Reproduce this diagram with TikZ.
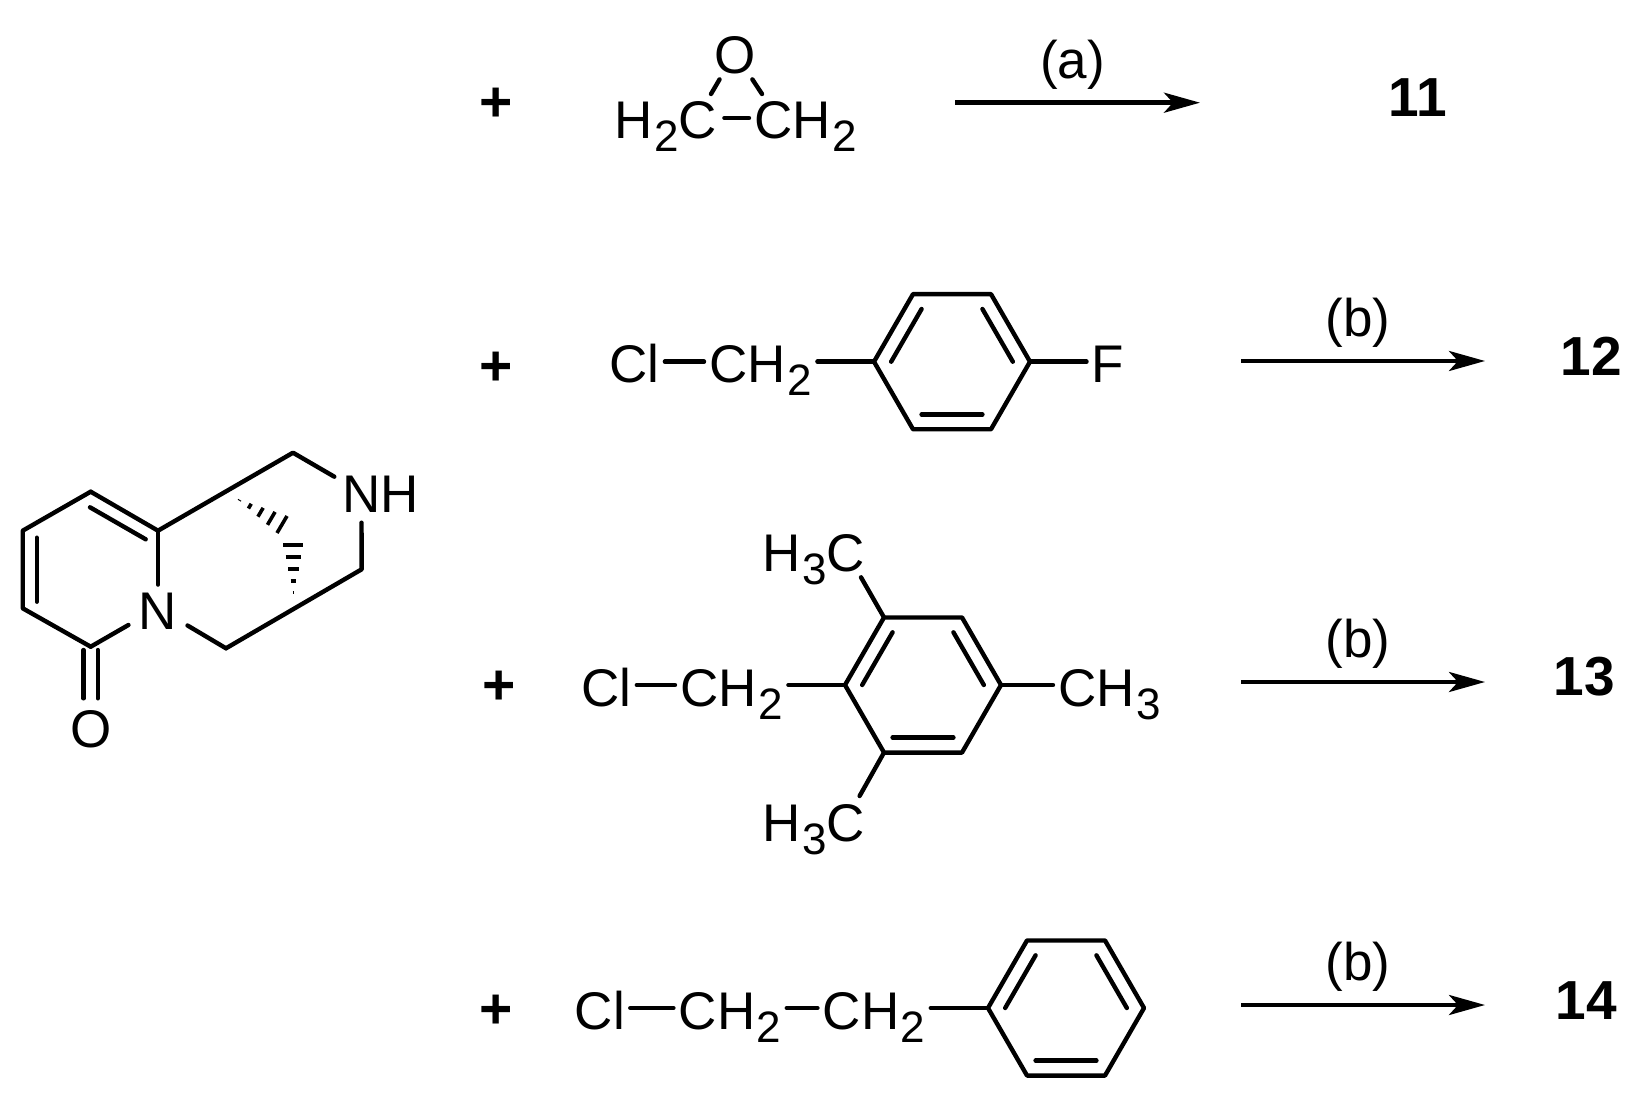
\documentclass[tikz,border=0pt]{standalone}
\usepackage{fontspec}
\setmainfont{Liberation Sans}
\usetikzlibrary{calc, arrows.meta}
\newcommand{\chemsub}[1]{\kern.8pt\raisebox{-6.5pt}{\fontsize{22pt}{24pt}\selectfont #1}}

\begin{document}
\begin{tikzpicture}[
            x=.5pt, y=-.5pt,
            bond/.style={line width=2.2pt, line cap=round, line join=round},
            hash/.style={line width=1.8pt},
            rxn/.style={line width=2.2pt, arrows=-{Stealth[length=18pt, width=10pt, inset=4.5pt]}},
            atom/.style={font=\fontsize{26.5pt}{30pt}\selectfont, inner xsep=2.5pt, inner ysep=1pt, text height=21pt, text depth=0pt},
            cmpd/.style={atom, font=\fontsize{27.5pt}{30pt}\selectfont\bfseries},
            plussign/.style={atom, font=\fontsize{28.5pt}{30pt}\selectfont\bfseries}
        ]
        \useasboundingbox (0,0) rectangle (1631,1095);

        % bicyclic amine
        \coordinate (c1) at (90.7,491.7);
        \coordinate (c2) at (22.7,530.7);
        \coordinate (c3) at (22.7,608.3);
        \coordinate (c4) at (90.7,646.7);
        \coordinate (c6) at (158,530.7);
        \coordinate (c7) at (293,452.7);
        \coordinate (c9) at (361.7,569.3);
        \coordinate (c10) at (226,648.3);
        \coordinate (nh1) at (334.3,476.7);
        \coordinate (nh2) at (361.5,522.7);
        \coordinate (co1) at (83.5,650);
        \coordinate (co2) at (97.8,650);
        \coordinate (co3) at (83.5,698.3);
        \coordinate (co4) at (97.8,698.3);

        \node[atom, inner xsep=5pt] (N) at (158,608) {N};
        \node[atom, anchor=west] (NH) at (337,492) {NH};
        \node[atom] (Oket) at (90.7,726) {O};

        \draw[bond] (c1) -- (c2) -- (c3) -- (c4);
        \draw[bond] (c1) -- (c6) -- (c7) -- (nh1);
        \draw[bond] (c4) -- (N);
        \draw[bond] (c6) -- (N);
        \draw[bond] (N) -- (c10);
        \draw[bond] (c10) -- (c9) -- (nh2);
        \draw[bond] (90,507.3) -- (145.7,539.3);
        \draw[bond] (36.7,537.7) -- (36.7,601.7);
        \draw[bond] (co1) -- (co3);
        \draw[bond] (co2) -- (co4);

        \coordinate (hash1a) at (237.3,499);
        \coordinate (hash1l) at (277,533);
        \coordinate (hash1r) at (287,516);
        \coordinate (hash2a) at (293.3,595);
        \coordinate (hash2l) at (283.3,545);
        \coordinate (hash2r) at (303.3,545);
        \foreach \a in {hash1, hash2}
            \foreach \t in {.05, .28, .52, .76, 1}
                \draw[hash] ($(\a a)!\t!(\a l)$) -- ($(\a a)!\t!(\a r)$);

        % benzene rings
        \foreach \rg/\cx/\cy in {f/952/361.7, m/923/685, p/1066/1008} {
            \coordinate (c\rg) at (\cx,\cy);
            \foreach \v in {0,...,5}
                \coordinate (\rg\v) at ($(c\rg)+(60*\v:78)$);
            \draw[bond] (\rg0) -- (\rg1) -- (\rg2) -- (\rg3) -- (\rg4) -- (\rg5) -- cycle;
            \foreach \v/\w in {1/2, 3/4, 5/0}
                \draw[bond] ($(c\rg)!.78!(\rg\v)$) -- ($(c\rg)!.78!(\rg\w)$);
        }

        % first row
        \node[plussign] (plusA) at (496,100.7) {+};
        \node[atom, inner ysep=2.5pt] (Oepo) at (735,53) {O};
        \node[atom, anchor=west] (CH2l) at (609,118) {H\chemsub{2}C};
        \node[atom, anchor=west] (CH2r) at (749,118) {CH\chemsub{2}};
        \coordinate (ep1) at (711,94);
        \coordinate (ep2) at (762,94);
        \draw[bond] (Oepo) -- (ep1);
        \draw[bond] (Oepo) -- (ep2);
        \draw[bond, shorten <=1pt] (CH2l) -- (CH2r);
        \coordinate (arrA1) at (955,102.7);
        \coordinate (arrA2) at (1200,102.7);
        \draw[rxn] (arrA1) to node[atom, pos=.48, above=10pt] {(a)} (arrA2);
        \node[cmpd] (p11) at (1418,96) {11};

        % second row
        \node[plussign] (plusB) at (495.7,365) {+};
        \node[atom, anchor=west] (ClB) at (604,361.7) {Cl};
        \node[atom, anchor=west] (CH2B) at (704,361.7) {CH\chemsub{2}};
        \node[atom, anchor=west] (F) at (1086.5,361.7) {F};
        \draw[bond] (ClB) -- (CH2B);
        \draw[bond] (CH2B) -- (f3);
        \draw[bond] (f0) -- (F);
        \coordinate (arrB1) at (1241,361);
        \coordinate (arrB2) at (1485,361);
        \draw[rxn] (arrB1) to node[atom, pos=.48, above=10pt] {(b)} (arrB2);
        \node[cmpd] (p12) at (1591,355) {12};

        % third row
        \node[plussign] (plusC) at (499,683) {+};
        \node[atom, anchor=west] (ClC) at (576,685) {Cl};
        \node[atom, anchor=west] (CH2C) at (675,685) {CH\chemsub{2}};
        \node[atom, anchor=west] (CH3) at (1053,685) {CH\chemsub{3}};
        \node[atom, anchor=west] (Me1) at (757,550.7) {H\chemsub{3}C};
        \node[atom, anchor=west] (Me2) at (757,820.7) {H\chemsub{3}C};
        \coordinate (me1) at (861,577.3);
        \coordinate (me2) at (859.6,796);
        \draw[bond] (ClC) -- (CH2C);
        \draw[bond] (CH2C) -- (m3);
        \draw[bond] (m0) -- (CH3);
        \draw[bond] (m4) -- (me1);
        \draw[bond] (m2) -- (me2);
        \coordinate (arrC1) at (1241,682);
        \coordinate (arrC2) at (1485,682);
        \draw[rxn] (arrC1) to node[atom, pos=.48, above=10pt] {(b)} (arrC2);
        \node[cmpd] (p13) at (1584,674) {13};

        % fourth row
        \node[plussign] (plusD) at (496,1007) {+};
        \node[atom, anchor=west] (ClD) at (569.4,1008) {Cl};
        \node[atom, anchor=west] (CH2D) at (673.4,1008) {CH\chemsub{2}};
        \node[atom, anchor=west] (CH2E) at (817.4,1008) {CH\chemsub{2}};
        \draw[bond] (ClD) -- (CH2D);
        \draw[bond] (CH2D) -- (CH2E);
        \draw[bond] (CH2E) -- (p3);
        \coordinate (arrD1) at (1241,1005);
        \coordinate (arrD2) at (1485,1005);
        \draw[rxn] (arrD1) to node[atom, pos=.48, above=10pt] {(b)} (arrD2);
        \node[cmpd] (p14) at (1586,998) {14};
    \end{tikzpicture}
\end{document}
